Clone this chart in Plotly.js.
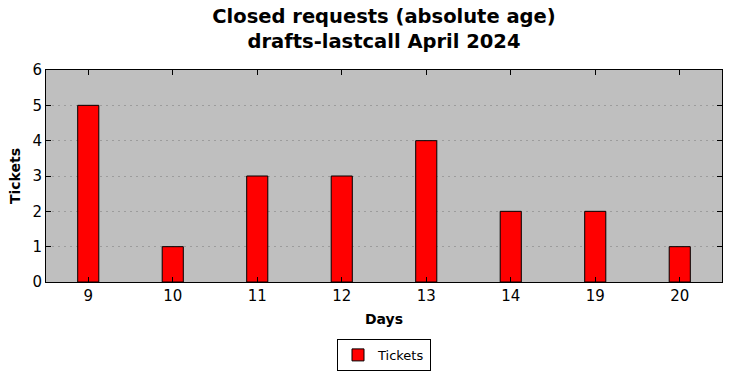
<!DOCTYPE html>
<html>
<head>
<meta charset="utf-8">
<script src="https://cdn.plot.ly/plotly-3.0.1.min.js"></script>
<style>html,body{margin:0;padding:0;background:#fff;}#chart{width:732px;height:378px;}</style>
</head>
<body>
<div id="chart"></div>
<script>
const categories = ["9", "10", "11", "12", "13", "14", "19", "20"];
const tickets = [5, 1, 3, 3, 4, 2, 2, 1];
const yTicks = [0, 1, 2, 3, 4, 5, 6];

const font = "DejaVu Sans, sans-serif";
const trace = {
  type: "bar",
  x: categories,
  y: tickets,
  name: "Tickets",
  width: 0.25,
  marker: {color: "#ff0000", line: {color: "#000000", width: 1}},
  showlegend: true
};
const layout = {
  width: 732, height: 378,
  margin: {l: 46, r: 10, t: 70, b: 96, autoexpand: false},
  paper_bgcolor: "#ffffff",
  plot_bgcolor: "#bfbfbf",
  font: {family: font, color: "#000", size: 14},
  title: {
    text: "<b>Closed requests (absolute age)<br>drafts-lastcall April 2024</b>",
    font: {family: font, size: 19.5, color: "#000"},
    xref: "paper", x: 0.5, xanchor: "center",
    yref: "container", y: 0.94, yanchor: "middle"
  },
  xaxis: {
    type: "category",
    range: [-0.5, 7.5],
    title: {text: "<b>Days</b>", font: {family: font, size: 14}, standoff: 10},
    showline: true, linecolor: "#000", linewidth: 1, mirror: "ticks",
    ticks: "inside", ticklen: 5, tickcolor: "#000",
    showgrid: false, zeroline: false,
    tickfont: {family: font, size: 15}
  },
  yaxis: {
    range: [0, 6],
    tickvals: yTicks,
    title: {text: "<b>Tickets</b>", font: {family: font, size: 14}, standoff: 8},
    showline: true, linecolor: "#000", linewidth: 1, mirror: "ticks",
    ticks: "inside", ticklen: 5, tickcolor: "#000",
    showgrid: true, gridcolor: "#9c9c9c", griddash: "2px,4px", gridwidth: 1,
    zeroline: false,
    tickfont: {family: font, size: 15}
  },
  legend: {
    orientation: "h",
    xref: "paper", x: 0.5, xanchor: "center",
    yref: "container", y: 0.061, yanchor: "middle",
    bgcolor: "#fff", bordercolor: "#000", borderwidth: 1,
    font: {family: font, size: 13}
  },
  bargap: 0.75
};
Plotly.newPlot("chart", [trace], layout, {displayModeBar: false, staticPlot: true});
</script>
</body>
</html>
